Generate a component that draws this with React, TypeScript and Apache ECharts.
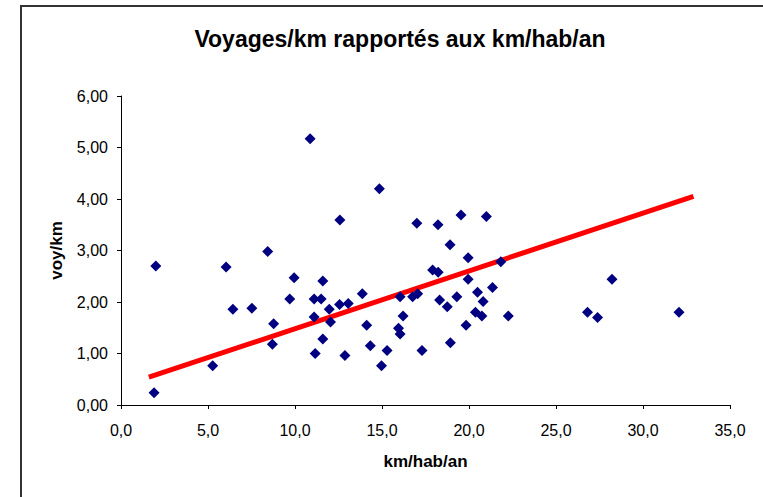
import React, { useEffect, useRef } from "react";
import * as echarts from "echarts";

const titleText = "Voyages/km rapportés aux km/hab/an";
const xAxisName = "km/hab/an";
const yAxisName = "voy/km";

const xValues = [
  1.9, 2.0, 5.27, 6.04, 6.43, 7.52, 8.43, 8.77, 8.7, 9.95, 9.7, 10.87, 11.1, 11.1, 11.16,
  11.5, 11.6, 11.6, 11.97, 12.04, 12.56, 12.58, 12.87, 13.06, 13.87, 14.12, 14.33, 14.85,
  14.97, 15.29, 15.95, 16.04, 16.04, 16.21, 16.76, 17.0, 17.05, 17.3, 17.91, 18.22, 18.23,
  18.31, 18.75, 18.91, 18.93, 19.3, 19.54, 19.83, 19.95, 19.95, 20.37, 20.49, 20.74, 20.81,
  21.0, 21.35, 21.83, 22.26, 26.81, 27.39, 28.22, 32.07,
];
const yValues = [
  0.24, 2.7, 0.76, 2.68, 1.86, 1.88, 2.98, 1.58, 1.18, 2.47, 2.06, 5.17, 2.06, 1.71, 1.0,
  2.06, 2.41, 1.28, 1.86, 1.61, 1.95, 3.59, 0.96, 1.97, 2.16, 1.55, 1.15, 4.2,
  0.76, 1.06, 1.49, 1.38, 2.1, 1.73, 2.1, 3.53, 2.16, 1.06, 2.62, 3.5, 2.58,
  2.04, 1.91, 3.11, 1.21, 2.1, 3.69, 1.55, 2.86, 2.44, 1.8, 2.19, 1.73, 2.01,
  3.66, 2.28, 2.78, 1.73, 1.8, 1.7, 2.44, 1.8,
];
const trendX = [1.6, 32.9];
const trendY = [0.54, 4.05];

const font = "'Liberation Sans', Arial, sans-serif";

export default function App() {
  const ref = useRef<HTMLDivElement>(null);
  useEffect(() => {
    if (!ref.current) return;
    const chart = echarts.init(ref.current, null, { renderer: "svg" });
    const points = xValues.map((x, i) => [x, yValues[i]]);
    const trend = trendX.map((x, i) => [x, trendY[i]]);
    chart.setOption({
      animation: false,
      backgroundColor: "#ffffff",
      title: {
        text: titleText,
        left: 395,
        top: 22,
        textAlign: "center",
        textStyle: { fontFamily: font, fontSize: 23, fontWeight: "bold", color: "#000" },
      },
      graphic: [
        {
          type: "rect",
          shape: { x: 21, y: 6, width: 800, height: 600 },
          style: { fill: "none", stroke: "#333", lineWidth: 2 },
          silent: true,
        },
      ],
      grid: { left: 121, right: 33, top: 96, bottom: 92 },
      xAxis: {
        type: "value",
        min: 0,
        max: 35,
        interval: 5,
        name: xAxisName,
        nameLocation: "middle",
        nameGap: 48,
        nameTextStyle: { fontFamily: font, fontSize: 17, fontWeight: "bold", color: "#000" },
        axisLine: { show: true, lineStyle: { color: "#000", width: 1 } },
        axisTick: { show: true, length: 4, lineStyle: { color: "#000" } },
        axisLabel: {
          fontFamily: font,
          fontSize: 16,
          color: "#000",
          margin: 17,
          formatter: (v: number) => v.toFixed(1).replace(".", ","),
        },
        splitLine: { show: false },
      },
      yAxis: {
        type: "value",
        min: 0,
        max: 6,
        interval: 1,
        name: yAxisName,
        nameLocation: "middle",
        nameGap: 56,
        nameRotate: 90,
        nameTextStyle: { fontFamily: font, fontSize: 17, fontWeight: "bold", color: "#000" },
        axisLine: { show: true, lineStyle: { color: "#000", width: 1 } },
        axisTick: { show: true, length: 4, lineStyle: { color: "#000" } },
        axisLabel: {
          fontFamily: font,
          fontSize: 16,
          color: "#000",
          margin: 13,
          formatter: (v: number) => v.toFixed(2).replace(".", ","),
        },
        splitLine: { show: false },
      },
      series: [
        {
          type: "line",
          data: trend,
          symbol: "none",
          lineStyle: { color: "#ff0000", width: 5 },
          z: 2,
        },
        {
          type: "scatter",
          data: points,
          symbol: "diamond",
          symbolSize: 11,
          itemStyle: { color: "#000080", opacity: 1 },
          z: 3,
        },
      ],
    });
    return () => chart.dispose();
  }, []);
  return (
    <div
      ref={ref}
      style={{ position: "fixed", left: 0, top: 0, width: 763, height: 497 }}
    />
  );
}
